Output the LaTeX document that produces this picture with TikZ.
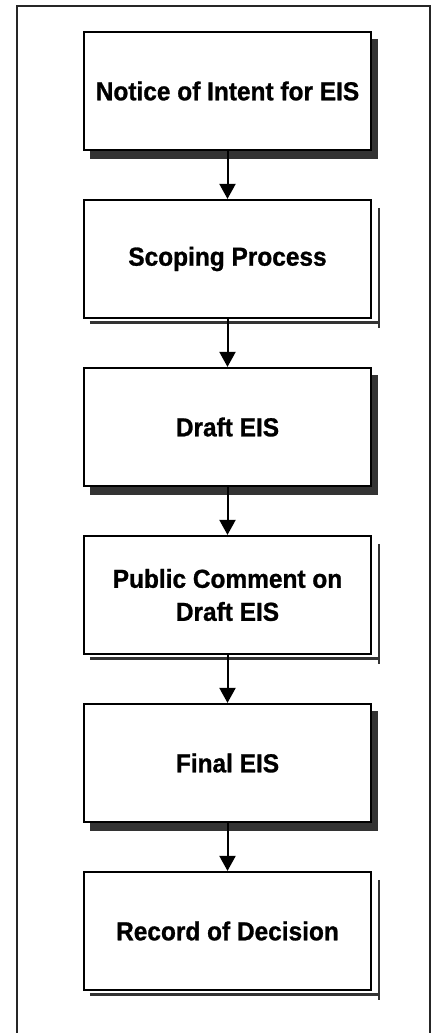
\documentclass[tikz,border=0pt]{standalone}
\usepackage{fontspec}
\setmainfont{Liberation Sans}
\newfontfamily\boxfont{Liberation Sans}[BoldFeatures={FakeStretch=0.94,FakeBold=1}]
\usetikzlibrary{arrows.meta}
\definecolor{shadowgray}{HTML}{333333}
\pgfdeclarelayer{background}
\pgfsetlayers{background,main}
\begin{document}
\begin{tikzpicture}[x=1pt,y=-1pt,
  stepbox/.style={draw=black, line width=2.2pt, fill=white,
    minimum width=287pt, minimum height=118pt, inner sep=0pt, align=center,
    font=\boxfont\fontsize{26}{33}\selectfont\bfseries},
  shade/.style={fill=shadowgray, draw=none},
  thinshade/.style={draw=shadowgray, line width=2.5pt},
  conn/.style={line width=2pt, -{Triangle[length=15pt,width=16pt]}},
  frame/.style={draw=black!85, line width=1.5pt}]
\useasboundingbox (0,0) rectangle (434,1033);
\draw[frame] (17,1033) -- (17,6) -- (430,6) -- (430,1033);

\node[stepbox] (n1) at (227.5,91)  {Notice of Intent for EIS};
\node[stepbox] (n2) at (227.5,259) {Scoping Process};
\node[stepbox] (n3) at (227.5,427) {Draft EIS};
\node[stepbox] (n4) at (227.5,595) {Public Comment on\\Draft EIS};
\node[stepbox] (n5) at (227.5,763) {Final EIS};
\node[stepbox] (n6) at (227.5,931) {Record of Decision};

\begin{pgfonlayer}{background}
  \foreach \n in {n1,n3,n5}{
    \fill[shade] ([shift={(7,8)}]\n.north west) rectangle ([shift={(6,8)}]\n.south east);
  }
  \foreach \n in {n2,n4,n6}{
    \draw[thinshade] ([shift={(7,9)}]\n.north east) -- ([shift={(7,9)}]\n.south east);
    \draw[thinshade] ([shift={(7,3.5)}]\n.south west) -- ([shift={(8.2,3.5)}]\n.south east);
  }
\end{pgfonlayer}

\draw[conn] (n1.south) -- (n2.north);
\draw[conn] (n2.south) -- (n3.north);
\draw[conn] (n3.south) -- (n4.north);
\draw[conn] (n4.south) -- (n5.north);
\draw[conn] (n5.south) -- (n6.north);
\end{tikzpicture}
\end{document}
